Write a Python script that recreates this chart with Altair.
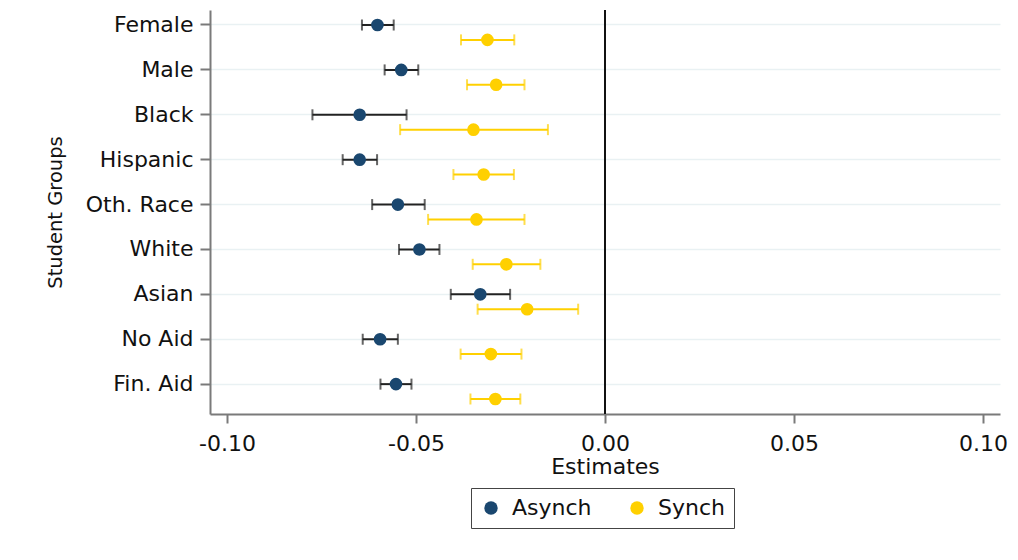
import altair as alt
import pandas as pd

groups = ["Female", "Male", "Black", "Hispanic", "Oth. Race", "White", "Asian", "No Aid", "Fin. Aid"]
series = ["Asynch", "Synch"]

asynch_est = [-0.0602, -0.0539, -0.0649, -0.0649, -0.0548, -0.0491, -0.0330, -0.0595, -0.0553]
asynch_lo = [-0.0643, -0.0583, -0.0774, -0.0694, -0.0616, -0.0545, -0.0408, -0.0641, -0.0594]
asynch_hi = [-0.0559, -0.0494, -0.0525, -0.0603, -0.0477, -0.0438, -0.0251, -0.0548, -0.0512]

synch_est = [-0.0311, -0.0288, -0.0348, -0.0321, -0.0340, -0.0261, -0.0206, -0.0302, -0.0290]
synch_lo = [-0.0381, -0.0365, -0.0542, -0.0401, -0.0468, -0.0350, -0.0337, -0.0382, -0.0356]
synch_hi = [-0.0240, -0.0213, -0.0151, -0.0241, -0.0213, -0.0171, -0.0071, -0.0221, -0.0224]

x_ticks = [-0.10, -0.05, 0.00, 0.05, 0.10]

rows = []
for i, g in enumerate(groups):
    rows.append({"group": g, "series": "Asynch", "est": asynch_est[i], "lo": asynch_lo[i], "hi": asynch_hi[i]})
    rows.append({"group": g, "series": "Synch", "est": synch_est[i], "lo": synch_lo[i], "hi": synch_hi[i]})
df = pd.DataFrame(rows)

FONT = "DejaVu Sans"
point_colors = ["#1a476f", "#ffd000"]
ci_color = alt.condition(alt.datum.series == "Asynch", alt.value("#222222"), alt.value("#ffd000"))

xscale = alt.Scale(domain=[-0.1045, 0.1045], nice=False, zero=False)

base = alt.Chart(df).encode(
    y=alt.Y(
        "group:N",
        sort=groups,
        scale=alt.Scale(paddingInner=0, paddingOuter=0),
        axis=alt.Axis(
            title="Student Groups",
            titleFontSize=19.5,
            titleFontWeight="normal",
            titleFont=FONT,
            titleColor="#111111",
            titlePadding=20,
            labelFont=FONT,
            labelFontSize=22,
            labelColor="#111111",
            labelPadding=7,
            labelOffset=-7.5,
            tickSize=10,
            tickWidth=2,
            tickColor="#7a7a7a",
            domainColor="#7a7a7a",
            domainWidth=2,
            grid=True,
            gridColor="#e9f1f3",
            gridWidth=1.5,
            bandPosition=0.334,
        ),
    ),
    yOffset=alt.YOffset(
        "series:N",
        sort=series,
        scale=alt.Scale(paddingInner=0, paddingOuter=0.51),
    ),
)

rules = base.mark_rule(strokeWidth=2).encode(
    x=alt.X("lo:Q", scale=xscale),
    x2="hi:Q",
    color=ci_color,
)

caps_lo = base.mark_tick(orient="vertical", size=11, thickness=2).encode(
    x=alt.X("lo:Q", scale=xscale),
    color=ci_color,
)
caps_hi = base.mark_tick(orient="vertical", size=11, thickness=2).encode(
    x=alt.X("hi:Q", scale=xscale),
    color=ci_color,
)

points = base.mark_circle(size=160, opacity=1).encode(
    x=alt.X(
        "est:Q",
        scale=xscale,
        axis=alt.Axis(
            title="Estimates",
            titleFont=FONT,
            titleFontSize=22,
            titleFontWeight="normal",
            titleColor="#111111",
            titlePadding=2,
            values=x_ticks,
            labelExpr="replace(format(datum.value, '.2f'), '\u2212', '-')",
            labelFont=FONT,
            labelFontSize=22,
            labelColor="#111111",
            labelPadding=10,
            tickSize=9,
            tickWidth=2,
            tickColor="#7a7a7a",
            domainColor="#7a7a7a",
            domainWidth=2,
            grid=False,
        ),
    ),
    color=alt.Color(
        "series:N",
        scale=alt.Scale(domain=series, range=point_colors),
        legend=alt.Legend(
            title=None,
            orient="none",
            legendX=261,
            legendY=478,
            direction="horizontal",
            labelFont=FONT,
            labelFontSize=22,
            labelColor="#111111",
            symbolType="circle",
            symbolSize=180,
            symbolStrokeWidth=0,
            labelOffset=10,
            columnPadding=34,
            padding=9,
            strokeColor="#444444",
        ),
    ),
)

zero = alt.Chart(pd.DataFrame({"z": [0.0]})).mark_rule(color="#111111", strokeWidth=2).encode(
    x=alt.X("z:Q", scale=xscale)
)

chart = (
    alt.layer(zero, rules, caps_lo, caps_hi, points)
    .properties(
        width=790,
        height=404,
        autosize=alt.AutoSizeParams(type="none"),
        padding={"left": 202, "top": 2, "right": 10, "bottom": 130},
        background="white",
    )
    .configure_view(stroke=None)
)

chart.save("out.html", embed_options={"renderer": "svg", "actions": False})
